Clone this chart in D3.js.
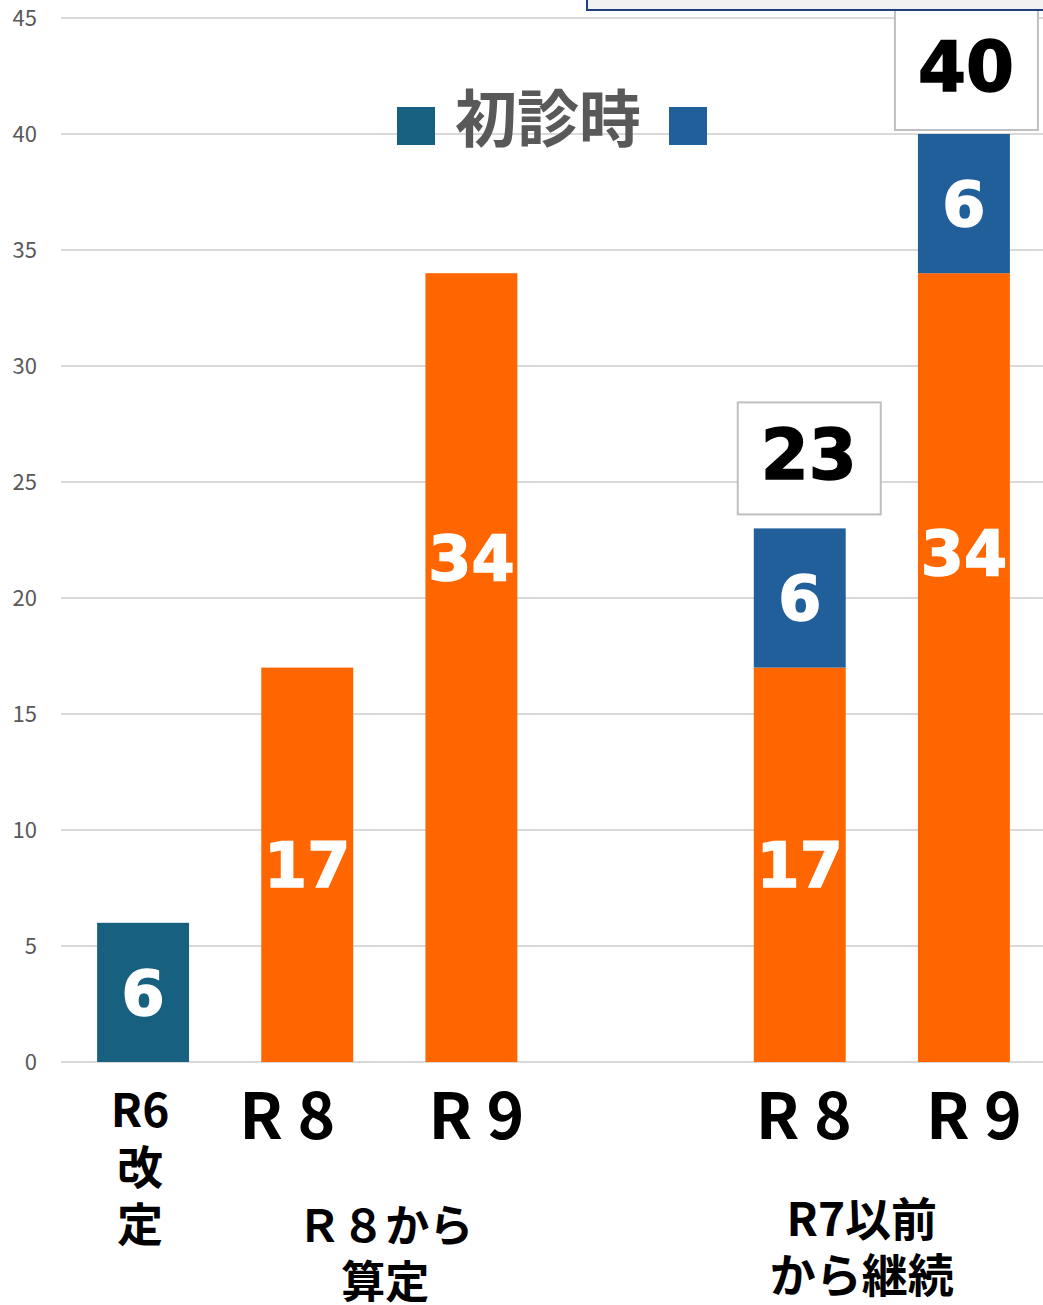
<!DOCTYPE html>
<html lang="ja">
<head>
<meta charset="UTF-8">
<title>初診時</title>
<script src="https://d3js.org/d3.v7.min.js"></script>
<style>
    body { margin: 0; background: #fff; }
    svg { display: block; }
    .tick-label { font-family: "Noto Sans CJK JP", sans-serif; font-size: 22px; fill: #595959; }
    .num { font-family: "DejaVu Sans", sans-serif; font-weight: bold; }
    .jp { font-family: "Noto Sans CJK JP", sans-serif; font-weight: bold; fill: #000; }
</style>
</head>
<body>
<svg></svg>
<script>
    // データ
    const categories = ["r6", "r8_new", "r9_new", "blank", "r8_cont", "r9_cont"];
    const catLabels = ["R6", "R 8", "R 9", "", "R 8", "R 9"];
    const kaitei = [6, 0, 0, 0, 0, 0];      // R6改定（初診時）
    const keizoku = [0, 17, 34, 0, 17, 34]; // 算定分
    const shoshin = [0, 0, 0, 0, 6, 6];     // 初診時
    const yTicks = [0, 5, 10, 15, 20, 25, 30, 35, 40, 45];
    const legendText = "初診時";

    const width = 1043, height = 1305;
    const svg = d3.select("svg").attr("width", width).attr("height", height);

    const x = d3.scaleBand()
        .domain(categories)
        .range([61, 1046])
        .paddingInner(0.44)
        .paddingOuter(0.22);

    const y = d3.scaleLinear().domain([0, 45]).range([1062, 18]);

    const colors = { kaitei: "#17607f", keizoku: "#ff6600", shoshin: "#215f9a" };

    // グリッド線と目盛り
    svg.append("g").selectAll("line")
        .data(yTicks)
        .join("line")
        .attr("x1", 61).attr("x2", width)
        .attr("y1", d => y(d)).attr("y2", d => y(d))
        .attr("stroke", "#d9d9d9").attr("stroke-width", 2);

    svg.append("g").selectAll("text")
        .data(yTicks)
        .join("text")
        .attr("class", "tick-label")
        .attr("x", 37).attr("y", d => y(d))
        .attr("dy", "0.35em")
        .attr("text-anchor", "end")
        .text(d => d);

    // 積み上げ
    const rows = categories.map((c, i) => ({ cat: c, kaitei: kaitei[i], keizoku: keizoku[i], shoshin: shoshin[i] }));
    const stack = d3.stack().keys(["kaitei", "keizoku", "shoshin"])(rows);

    const segs = [];
    stack.forEach(s => s.forEach(d => {
        if (d[1] - d[0] > 0) segs.push({ key: s.key, cat: d.data.cat, y0: d[0], y1: d[1] });
    }));

    svg.append("g").selectAll("rect")
        .data(segs)
        .join("rect")
        .attr("x", d => x(d.cat))
        .attr("width", x.bandwidth())
        .attr("y", d => y(d.y1))
        .attr("height", d => y(d.y0) - y(d.y1))
        .attr("fill", d => colors[d.key]);

    // 棒内ラベル（34は上寄せ）
    const shift = { r9_new: -110, r9_cont: -115 };
    svg.append("g").selectAll("text")
        .data(segs)
        .join("text")
        .attr("class", "num")
        .attr("x", d => x(d.cat) + x.bandwidth() / 2)
        .attr("y", d => (y(d.y0) + y(d.y1)) / 2 + (d.key === "keizoku" ? (shift[d.cat] || 0) : 0))
        .attr("dy", "0.36em")
        .attr("text-anchor", "middle")
        .attr("fill", "#fff")
        .attr("stroke", "#fff")
        .attr("stroke-width", 1.5)
        .attr("font-size", 62)
        .text(d => d.y1 - d.y0);

    // 合計ボックス
    const totals = rows.filter(r => r.keizoku > 0 && r.shoshin > 0)
        .map(r => ({ cat: r.cat, total: r.kaitei + r.keizoku + r.shoshin }));
    const boxDx = { r8_cont: 9, r9_cont: 2 };
    const boxGap = { r8_cont: 14, r9_cont: 4 };
    const boxH = { r8_cont: 112, r9_cont: 120 };
    const tg = svg.append("g").selectAll("g").data(totals).join("g");
    tg.append("rect")
        .attr("x", d => x(d.cat) + x.bandwidth() / 2 - 71 + boxDx[d.cat])
        .attr("width", 143)
        .attr("y", d => y(d.total) - boxGap[d.cat] - boxH[d.cat])
        .attr("height", d => boxH[d.cat])
        .attr("fill", "#fff")
        .attr("stroke", "#bfbfbf")
        .attr("stroke-width", 2);
    tg.append("text")
        .attr("class", "num")
        .attr("x", d => x(d.cat) + x.bandwidth() / 2 + boxDx[d.cat])
        .attr("y", d => y(d.total) - boxGap[d.cat] - boxH[d.cat] / 2 - 4)
        .attr("dy", "0.36em")
        .attr("text-anchor", "middle")
        .attr("font-size", 69)
        .attr("fill", "#000")
        .attr("stroke", "#000")
        .attr("stroke-width", 1.5)
        .text(d => d.total);

    // 上部の枠（見切れ）
    svg.append("rect")
        .attr("x", 587).attr("y", -20)
        .attr("width", 500).attr("height", 30)
        .attr("fill", "#f2f2f2")
        .attr("stroke", "#1f3f7f").attr("stroke-width", 2);

    // 凡例
    const legend = svg.append("g");
    legend.append("rect").attr("x", 397).attr("y", 107).attr("width", 38).attr("height", 38).attr("fill", colors.kaitei);
    legend.append("rect").attr("x", 669).attr("y", 107).attr("width", 38).attr("height", 38).attr("fill", colors.shoshin);
    legend.append("text")
        .attr("x", 548).attr("y", 120)
        .attr("dy", "0.36em")
        .attr("text-anchor", "middle")
        .attr("font-family", "'Noto Sans CJK JP', sans-serif")
        .attr("font-weight", "bold")
        .attr("font-size", 62)
        .attr("fill", "#595959")
        .text(legendText);

    // 軸ラベル
    const labelDx = { r8_new: -20, r9_cont: 10, r8_cont: 4, r9_new: 5 };
    svg.append("g").selectAll("text")
        .data(categories.filter((c, i) => i > 0 && catLabels[i]))
        .join("text")
        .attr("class", "jp")
        .attr("x", d => x(d) + x.bandwidth() / 2 + (labelDx[d] || 0))
        .attr("y", 1139)
        .attr("text-anchor", "middle")
        .attr("font-size", 64)
        .text(d => catLabels[categories.indexOf(d)]);

    const cx = c => x(c) + x.bandwidth() / 2;
    const r6Lines = ["R6", "改", "定"];
    svg.append("g").selectAll("text")
        .data(r6Lines)
        .join("text")
        .attr("class", "jp")
        .attr("x", cx("r6") - 3)
        .attr("y", (d, i) => 1127 + i * 57)
        .attr("text-anchor", "middle")
        .attr("font-size", 46)
        .text(d => d);

    const groups = [
        { lines: ["Ｒ８から", "算定"], at: (cx("r8_new") + cx("r9_new")) / 2 - 4, top: 1242, size: 44 },
        { lines: ["R7以前", "から継続"], at: (cx("r8_cont") + cx("r9_cont")) / 2 - 20, top: 1236, size: 46 }
    ];
    groups.forEach(g => {
        svg.append("g").selectAll("text")
            .data(g.lines)
            .join("text")
            .attr("class", "jp")
            .attr("x", g.at)
            .attr("y", (d, i) => g.top + i * 56)
            .attr("text-anchor", "middle")
            .attr("font-size", g.size)
            .text(d => d);
    });
</script>
</body>
</html>
